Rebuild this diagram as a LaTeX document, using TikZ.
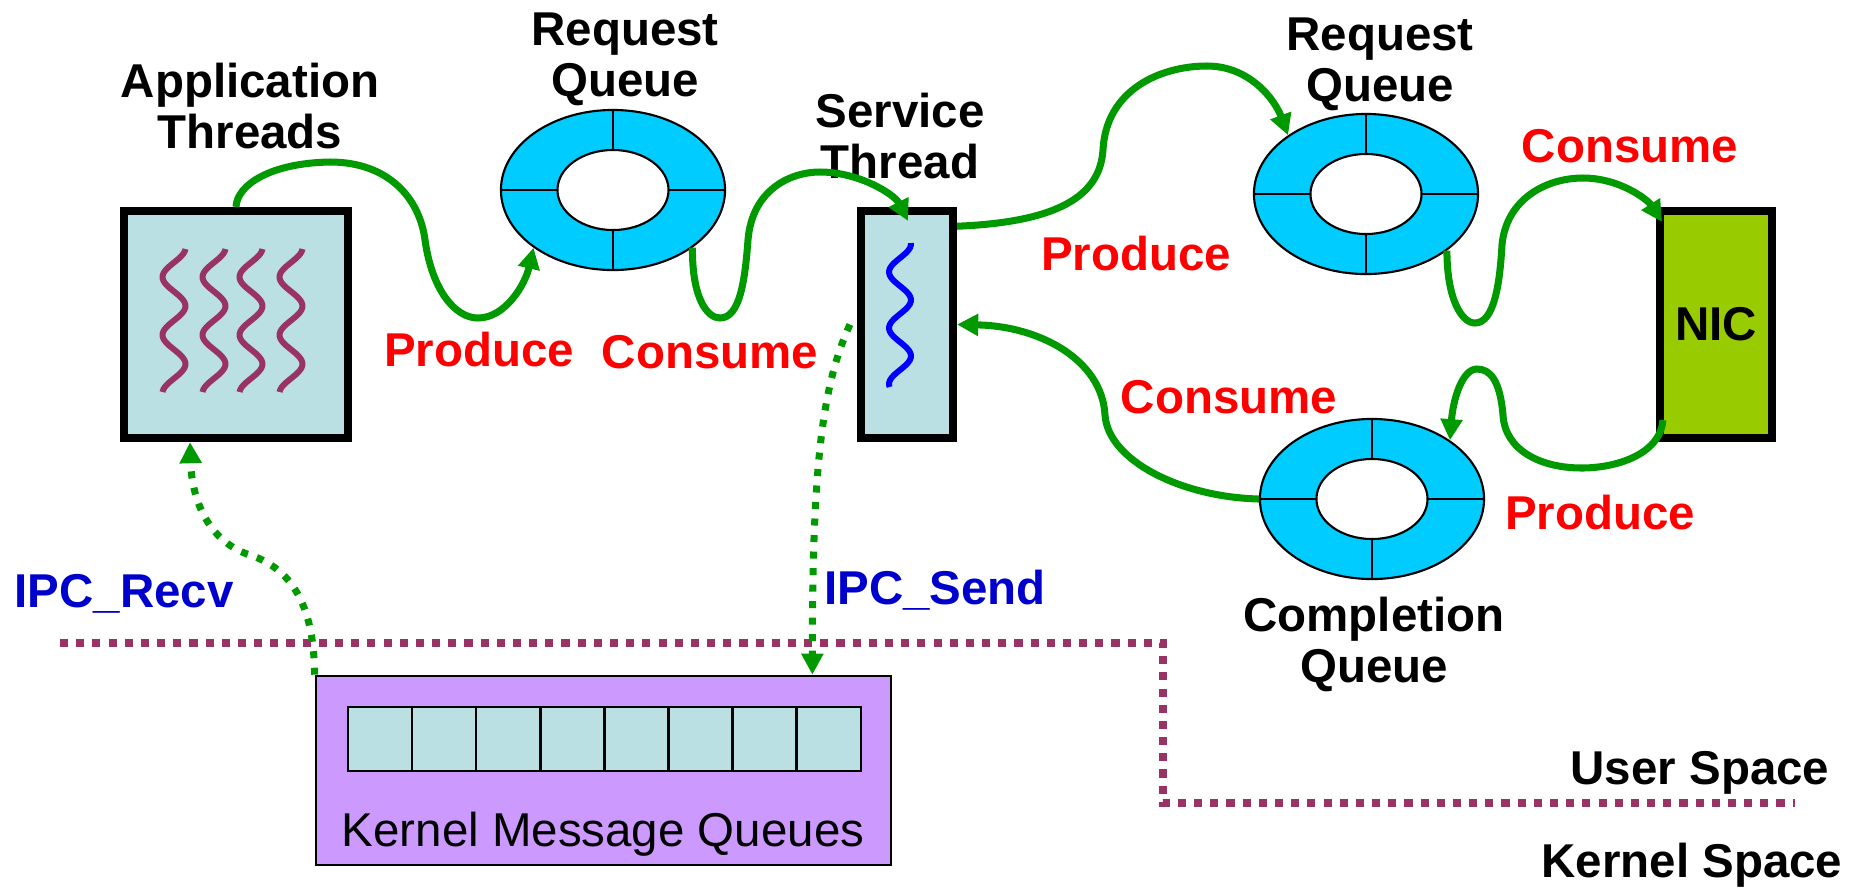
\documentclass[tikz,border=0pt]{standalone}
\usepackage{fontspec}
\setmainfont{Liberation Sans}
\usetikzlibrary{arrows.meta,shapes.geometric,calc}

\definecolor{ringblue}{HTML}{00CCFF}
\definecolor{boxcyan}{HTML}{BAE0E3}
\definecolor{nicgreen}{HTML}{99CC00}
\definecolor{flowgreen}{HTML}{009900}
\definecolor{plum}{HTML}{993366}
\definecolor{kernelviolet}{HTML}{CC99FF}
\definecolor{ipcblue}{HTML}{0000CC}

\tikzset{
  lbl/.style={font=\fontsize{13.5}{14.5}\selectfont\bfseries, align=center, inner sep=0pt},
  act/.style={lbl, text=red, anchor=base},
  ipc/.style={lbl, text=ipcblue, anchor=base},
  thick box/.style={draw, line width=2.3pt, inner sep=0pt},
  ring/.style={ellipse, draw, line width=0.6pt, fill=ringblue,
    minimum width=2.24cm, minimum height=1.6cm, inner sep=0pt},
  ringline/.style={line width=0.6pt},
  flow/.style={draw=flowgreen, line width=2pt, -{Triangle[length=6pt,width=6pt]}},
  ipcflow/.style={flow, dash pattern=on 2pt off 2.7pt},
  wave/.style={line width=1.7pt},
  space line/.style={draw=plum, line width=2pt, dash pattern=on 2.3pt off 2.3pt},
  cell/.style={draw, fill=boxcyan, line width=0.7pt, minimum width=0.641cm,
    minimum height=0.64cm, inner sep=0pt},
}

% inner hole and the four slot dividers of a ring buffer
\newcommand\ringparts[1]{%
  \draw[ringline, fill=white] (#1.center) ellipse [x radius=0.555cm, y radius=0.4cm];
  \draw[ringline] (#1.north) -- ($(#1.center)+(0,-40)$)
                  (#1.south) -- ($(#1.center)+(0,40)$)
                  (#1.west)  -- ($(#1.center)+(-55.5,0)$)
                  (#1.east)  -- ($(#1.center)+(55.5,0)$);}

\begin{document}
\begin{tikzpicture}[x=0.01cm, y=-0.01cm]
\useasboundingbox (0,0) rectangle (1865,887);

% user / kernel boundary
\coordinate (us1) at (60,643);
\coordinate (us2) at (1163,643);
\coordinate (us3) at (1163,803);
\coordinate (us4) at (1795,803);
\draw[space line] (us1) -- (us2) -- (us3) -- (us4);

% thread boxes and the NIC
\node[thick box, fill=boxcyan, minimum width=2.24cm, minimum height=2.27cm] (app) at (236,324.5) {};
\node[thick box, fill=boxcyan, minimum width=0.92cm, minimum height=2.27cm] (svc) at (907,324.5) {};
\node[thick box, lbl, fill=nicgreen, minimum width=1.12cm, minimum height=2.27cm] (nic) at (1716,324.5) {NIC};

% application threads
\foreach \xc in {174,214,251,291}
  \draw[wave, plum] plot[domain=249:392, samples=60, smooth, variable=\t]
    ({\xc-11.5*cos(6.2069*(\t-277))}, \t);
% service thread
\draw[wave, blue] plot[domain=243:387, samples=60, smooth, variable=\t]
    ({900-11*cos(6.4286*(\t-272))}, \t);

% ring buffers
\node[ring] (rq1) at (613,190) {};
\node[ring] (rq2) at (1366,194) {};
\node[ring] (cq)  at (1372,499) {};
\ringparts{rq1}
\ringparts{rq2}
\ringparts{cq}

% kernel message queues
\node[draw, fill=kernelviolet, line width=0.7pt, minimum width=5.75cm, minimum height=1.89cm] (kq) at (603.5,770.5) {};
\foreach \i in {1,...,8}
  \node[cell] (c\i) at ({348+64.1*(\i-0.5)}, 739) {};
\node[font=\fontsize{13.5}{14.5}\selectfont, anchor=base, inner sep=0pt] (kqlabel) at (603,846) {Kernel Message Queues};

% titles
\node[lbl] (tapp) at (250,106) {Application\\Threads};
\node[lbl] (trq1) at (625,59) {Request\\Queue};
\node[lbl] (tsvc) at (900,136) {Service\\Thread};
\node[lbl] (trq2) at (1380,64) {Request\\Queue};
\node[lbl] (tcq)  at (1374,644) {Completion\\Queue};

% produce / consume labels
\node[act] (p1) at (479,366) {Produce};
\node[act] (c1) at (710,368) {Consume};
\node[act] (p2) at (1136,270) {Produce};
\node[act] (c3) at (1630,162) {Consume};
\node[act] (c2) at (1229,413) {Consume};
\node[act] (p4) at (1600,529) {Produce};

% IPC labels and spaces
\node[ipc] (recv) at (124,607) {IPC\_Recv};
\node[ipc] (send) at (935,604) {IPC\_Send};
\node[lbl, anchor=base] (user) at (1700,784) {User Space};
\node[lbl, anchor=base] (kern) at (1692,877) {Kernel Space};

% producer / consumer flows
\draw[flow] (app.north) .. controls (237,185) and (270,163) .. (330,162)
  .. controls (390,162) and (420,200) .. (425,240)
  .. controls (432,290) and (455,318) .. (478,318)
  .. controls (505,318) and (525,285) .. (rq1.216);
\draw[flow] (rq1.-36) .. controls (692,300) and (708,318) .. (720,318)
  .. controls (740,318) and (745,280) .. (748,240)
  .. controls (752,190) and (790,172) .. (820,172)
  .. controls (860,172) and (895,195) .. ($(svc.north)+(1,14)$);
\draw[flow] (svc.63) .. controls (1060,222) and (1100,195) .. (1103,150)
  .. controls (1106,90) and (1160,66) .. (1207,66)
  .. controls (1250,66) and (1275,100) .. (rq2.143);
\draw[flow] (rq2.-35) .. controls (1447,300) and (1462,323) .. (1475,323)
  .. controls (1495,323) and (1500,280) .. (1502,245)
  .. controls (1506,200) and (1545,178) .. (1583,178)
  .. controls (1620,178) and (1648,200) .. ($(nic.north west)+(6,15)$);
\draw[flow] ($(nic.south west)+(7,-22)$) .. controls (1660,455) and (1615,468) .. (1582,468)
  .. controls (1540,468) and (1505,450) .. (1503,415)
  .. controls (1500,380) and (1490,369) .. (1477,369)
  .. controls (1462,369) and (1453,400) .. (cq.37);
\draw[flow] (cq.west) .. controls (1180,497) and (1108,460) .. (1105,415)
  .. controls (1102,360) and (1040,326) .. (svc.east);

% IPC flows
\draw[ipcflow] (kq.north west) .. controls (314,610) and (295,570) .. (250,555)
  .. controls (212,543) and (192,505) .. ($(app.south)+(-46,0)$);
\draw[ipcflow] ($(svc.west)+(-7,0)$) .. controls (825,380) and (812,450) .. ($(kq.north east)+(-80,0)$);
\end{tikzpicture}
\end{document}
